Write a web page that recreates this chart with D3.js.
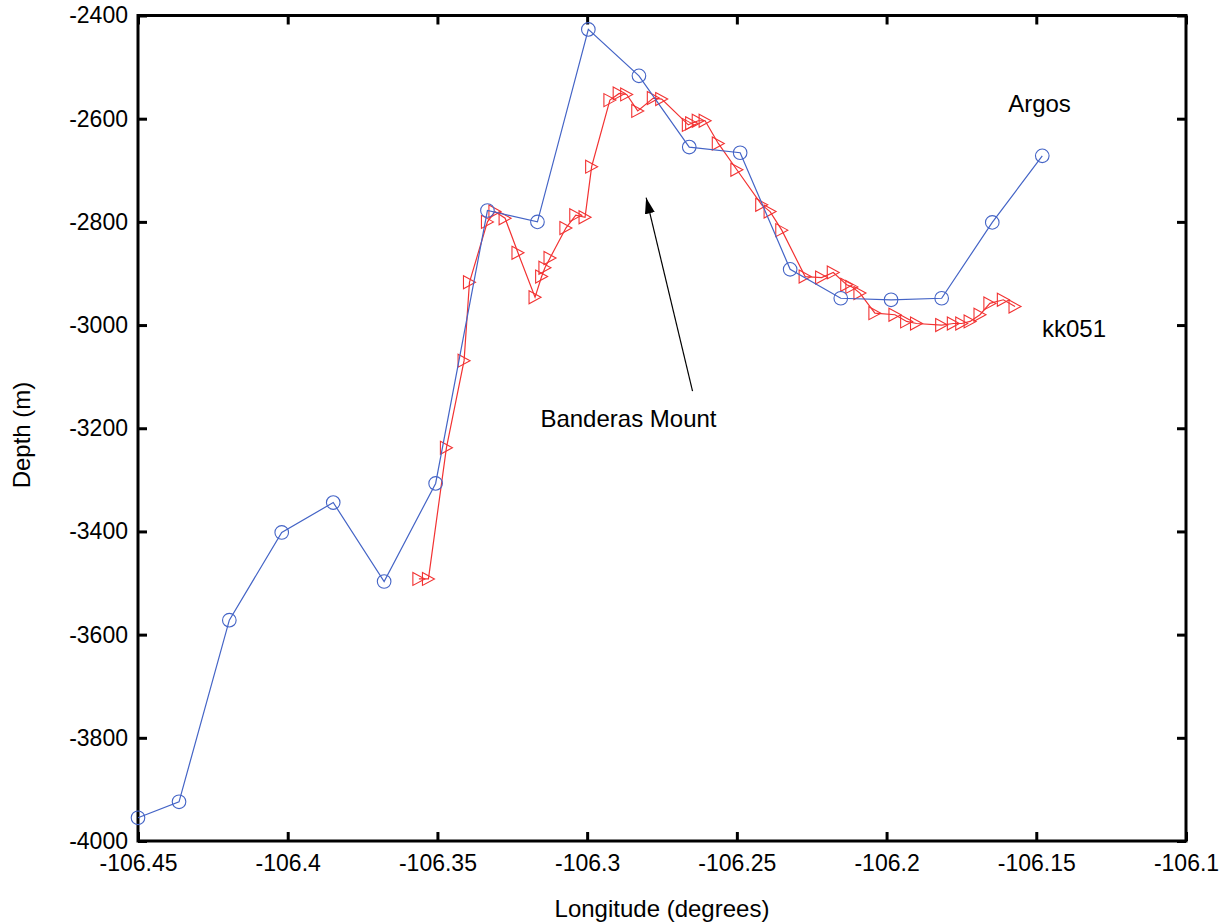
<!DOCTYPE html>
<html>
<head>
<meta charset="utf-8">
<script src="https://cdn.jsdelivr.net/npm/d3@7"></script>
<style>
  html, body { margin: 0; padding: 0; background: #fff; }
  svg { display: block; font-family: "Liberation Sans", Arial, sans-serif; }
</style>
</head>
<body>
<svg id="chart" width="1219" height="922"></svg>
<script>
// Argos track: longitude (degrees) and depth (m)
const argosLon = [-106.450, -106.4363, -106.4195, -106.4020, -106.3848, -106.3678, -106.3506,
  -106.3333, -106.3166, -106.2996, -106.2827, -106.2659, -106.2489, -106.2322, -106.2153,
  -106.1985, -106.1816, -106.1647, -106.1480];
const argosDepth = [-3955, -3924, -3572, -3402, -3344, -3497, -3307,
  -2778, -2800, -2427, -2517, -2655, -2666, -2892, -2948,
  -2951, -2948, -2801, -2672];

// kk051 track: longitude (degrees) and depth (m)
const kkLon = [-106.3562, -106.3530, -106.3470, -106.3411, -106.3393, -106.3333, -106.3308,
  -106.3274, -106.3231, -106.3174, -106.3152, -106.3141, -106.3124, -106.3071, -106.3038,
  -106.3007, -106.2985, -106.2924, -106.2893, -106.2868, -106.2831, -106.2779, -106.2751,
  -106.2662, -106.2651, -106.2629, -106.2606, -106.2562, -106.2500, -106.2417, -106.2389,
  -106.2350, -106.2272, -106.2217, -106.2178, -106.2133, -106.2116, -106.2089, -106.2039,
  -106.1972, -106.1933, -106.1900, -106.1816, -106.1777, -106.1749, -106.1721, -106.1688,
  -106.1655, -106.1610, -106.1571];
const kkDepth = [-3492, -3492, -3238, -3069, -2917, -2800, -2780,
  -2793, -2860, -2946, -2906, -2889, -2870, -2812, -2787,
  -2791, -2693, -2564, -2551, -2553, -2585, -2560, -2562,
  -2612, -2609, -2604, -2604, -2648, -2699, -2767, -2780,
  -2816, -2906, -2908, -2898, -2922, -2926, -2938, -2977,
  -2980, -2993, -2997, -3000, -2997, -2997, -2993, -2980,
  -2958, -2951, -2964];

// Axis ticks and their labels
const xTicks = [-106.45, -106.4, -106.35, -106.3, -106.25, -106.2, -106.15, -106.1];
const xTickLabels = ["-106.45", "-106.4", "-106.35", "-106.3", "-106.25", "-106.2", "-106.15", "-106.1"];
const yTicks = [-4000, -3800, -3600, -3400, -3200, -3000, -2800, -2600, -2400];
const yTickLabels = ["-4000", "-3800", "-3600", "-3400", "-3200", "-3000", "-2800", "-2600", "-2400"];

// Annotation: arrow pointing at the mount peak, from label toward the summit
const arrowFrom = { lon: -106.2648, depth: -3128 };
const arrowTo = { lon: -106.2803, depth: -2753 };

const svg = d3.select("#chart");
const plot = { left: 138, right: 1186, top: 15.5, bottom: 841 };

const x = d3.scaleLinear().domain([-106.45, -106.1]).range([plot.left, plot.right]);
const y = d3.scaleLinear().domain([-4000, -2400]).range([plot.bottom, plot.top]);

const BLUE = "#4464c6";
const RED = "#f23232";
const TICK = 9;

// Axes with inward ticks
const fmtX = d => xTickLabels[xTicks.indexOf(d)];
const fmtY = d => yTickLabels[yTicks.indexOf(d)];

const gx = svg.append("g").attr("transform", `translate(0,${plot.bottom})`)
  .call(d3.axisBottom(x).tickValues(xTicks).tickFormat(fmtX).tickSizeInner(-TICK).tickSizeOuter(0).tickPadding(14));
const gy = svg.append("g").attr("transform", `translate(${plot.left},0)`)
  .call(d3.axisLeft(y).tickValues(yTicks).tickFormat(fmtY).tickSizeInner(-TICK).tickSizeOuter(0).tickPadding(10));
const gxTop = svg.append("g").attr("transform", `translate(0,${plot.top})`)
  .call(d3.axisTop(x).tickValues(xTicks).tickFormat("").tickSizeInner(-TICK).tickSizeOuter(0));
const gyRight = svg.append("g").attr("transform", `translate(${plot.right},0)`)
  .call(d3.axisRight(y).tickValues(yTicks).tickFormat("").tickSizeInner(-TICK).tickSizeOuter(0));

[gx, gy, gxTop, gyRight].forEach(g => {
  g.select(".domain").remove();
  g.selectAll(".tick line").attr("stroke", "#000").attr("stroke-width", 3);
  g.selectAll(".tick text").attr("fill", "#000").attr("font-size", 23)
    .attr("font-family", "'Liberation Sans', Arial, sans-serif");
});

// Plot frame
svg.append("rect")
  .attr("x", plot.left).attr("y", plot.top)
  .attr("width", plot.right - plot.left).attr("height", plot.bottom - plot.top)
  .attr("fill", "none").attr("stroke", "#000").attr("stroke-width", 3);

const line = d3.line().x(d => x(d[0])).y(d => y(d[1]));
const argos = argosLon.map((v, i) => [v, argosDepth[i]]);
const kk = kkLon.map((v, i) => [v, kkDepth[i]]);

// kk051 track with right-pointing triangle markers
svg.append("path").datum(kk).attr("d", line)
  .attr("fill", "none").attr("stroke", RED).attr("stroke-width", 1.2);
svg.append("g").selectAll("path").data(kk).join("path")
  .attr("transform", d => `translate(${x(d[0])},${y(d[1])})`)
  .attr("d", "M-6,-6.5L6,0L-6,6.5Z")
  .attr("fill", "none").attr("stroke", RED).attr("stroke-width", 1.1);

// Argos track with circle markers
svg.append("path").datum(argos).attr("d", line)
  .attr("fill", "none").attr("stroke", BLUE).attr("stroke-width", 1.2);
svg.append("g").selectAll("circle").data(argos).join("circle")
  .attr("cx", d => x(d[0])).attr("cy", d => y(d[1])).attr("r", 6.8)
  .attr("fill", "none").attr("stroke", BLUE).attr("stroke-width", 1.1);

// Axis titles
svg.append("text").attr("x", (plot.left + plot.right) / 2).attr("y", 917)
  .attr("text-anchor", "middle").attr("font-size", 24).text("Longitude (degrees)");
svg.append("text").attr("transform", "translate(30,435) rotate(-90)")
  .attr("text-anchor", "middle").attr("font-size", 24).text("Depth (m)");

// Track labels
svg.append("text").attr("x", x(-106.1594)).attr("y", y(-2587))
  .attr("font-size", 24).text("Argos");
svg.append("text").attr("x", x(-106.1481)).attr("y", y(-3023))
  .attr("font-size", 24).text("kk051");

// Annotation
svg.append("text").attr("x", x(-106.2862)).attr("y", y(-3197))
  .attr("text-anchor", "middle").attr("font-size", 24).text("Banderas Mount");

svg.append("defs").append("marker")
  .attr("id", "arrowhead").attr("viewBox", "0 0 16 10")
  .attr("refX", 16).attr("refY", 5)
  .attr("markerWidth", 16).attr("markerHeight", 10)
  .attr("markerUnits", "userSpaceOnUse").attr("orient", "auto")
  .append("path").attr("d", "M0,0L16,5L0,10Z").attr("fill", "#000");

svg.append("line")
  .attr("x1", x(arrowFrom.lon)).attr("y1", y(arrowFrom.depth))
  .attr("x2", x(arrowTo.lon)).attr("y2", y(arrowTo.depth))
  .attr("stroke", "#000").attr("stroke-width", 1.2)
  .attr("marker-end", "url(#arrowhead)");
</script>
</body>
</html>
